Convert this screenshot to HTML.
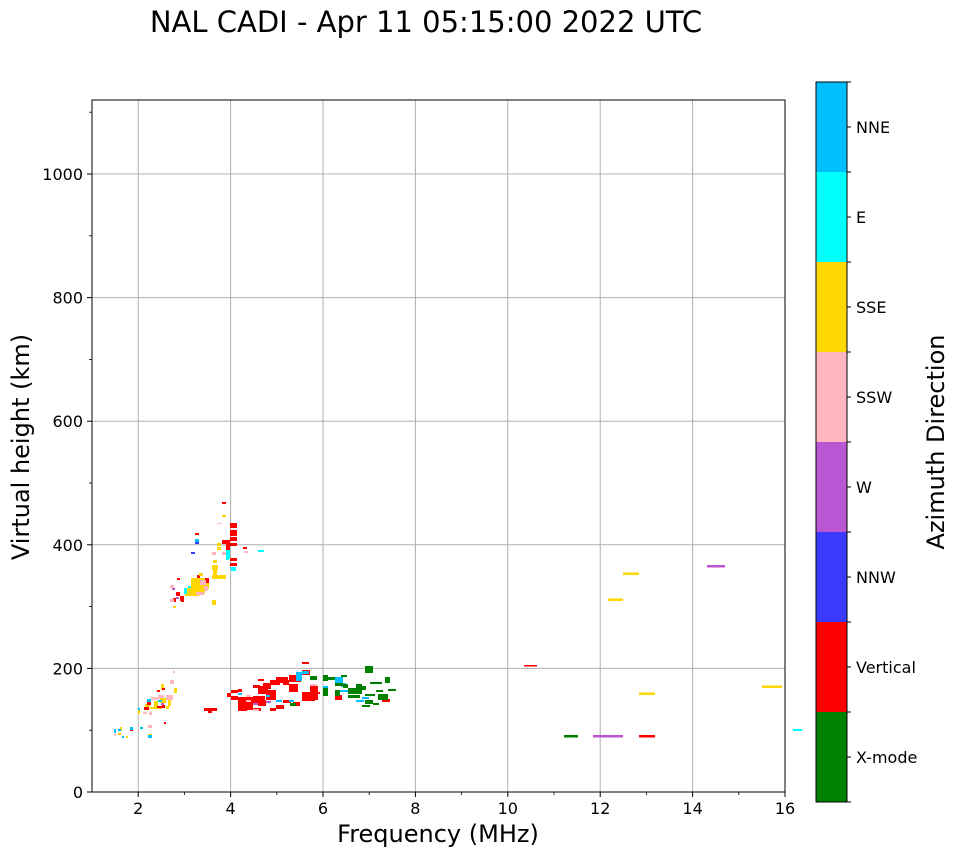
<!DOCTYPE html>
<html><head><meta charset="utf-8"><style>body{margin:0;background:#fff}svg{display:block;font-family:"DejaVu Sans","Liberation Sans",sans-serif}</style></head><body>
<svg width="958" height="857" viewBox="0 0 958 857" xmlns="http://www.w3.org/2000/svg">
<text x="426" y="32" font-size="29" text-anchor="middle">NAL CADI - Apr 11 05:15:00 2022 UTC</text>
<g stroke="#b0b0b0" stroke-width="1">
<line x1="138.2" y1="100" x2="138.2" y2="792"/><line x1="230.6" y1="100" x2="230.6" y2="792"/><line x1="323" y1="100" x2="323" y2="792"/><line x1="415.4" y1="100" x2="415.4" y2="792"/><line x1="507.8" y1="100" x2="507.8" y2="792"/><line x1="600.2" y1="100" x2="600.2" y2="792"/><line x1="692.6" y1="100" x2="692.6" y2="792"/>
<line x1="92" y1="668.4" x2="785" y2="668.4"/><line x1="92" y1="544.8" x2="785" y2="544.8"/><line x1="92" y1="421.2" x2="785" y2="421.2"/><line x1="92" y1="297.6" x2="785" y2="297.6"/><line x1="92" y1="174" x2="785" y2="174"/>
</g>
<g>
<g fill="#ff0000"><rect x="222" y="502" width="4" height="2"/><rect x="230" y="523" width="7" height="5"/><rect x="230" y="530" width="7" height="6"/><rect x="230" y="537" width="7" height="4"/><rect x="226" y="540" width="4" height="12"/><rect x="230" y="543" width="7" height="3"/><rect x="222" y="540" width="4" height="4"/><rect x="230" y="558" width="7" height="3"/><rect x="230" y="563" width="7" height="3"/><rect x="243" y="547" width="4" height="2"/><rect x="197" y="575" width="3" height="5"/><rect x="205" y="578" width="4" height="5"/><rect x="177" y="578" width="3" height="2"/><rect x="176" y="592" width="4" height="4"/><rect x="180" y="596" width="4" height="5"/><rect x="181" y="600" width="3" height="2"/><rect x="173" y="598" width="3" height="4"/><rect x="195" y="533" width="4" height="2"/></g>
<g fill="#ffd700"><rect x="222" y="515" width="4" height="2"/><rect x="217" y="543" width="4" height="3"/><rect x="217" y="547" width="4" height="3"/><rect x="213" y="560" width="4" height="3"/><rect x="212" y="565" width="6" height="5"/><rect x="213" y="570" width="4" height="5"/><rect x="212" y="575" width="14" height="4"/><rect x="199" y="573" width="4" height="3"/><rect x="191" y="578" width="14" height="14"/><rect x="185" y="588" width="14" height="8"/><rect x="203" y="583" width="6" height="6"/><rect x="212" y="600" width="4" height="5"/><rect x="173" y="606" width="3" height="2"/><rect x="200" y="590" width="5" height="4"/></g>
<g fill="#00ffff"><rect x="226" y="550" width="4" height="2"/><rect x="226" y="552" width="4" height="6"/><rect x="231" y="567" width="5" height="4"/><rect x="258" y="550" width="6" height="2"/><rect x="184" y="588" width="3" height="6"/><rect x="188" y="586" width="3" height="2"/><rect x="226" y="558" width="3" height="2"/></g>
<rect x="195" y="539" width="4" height="3" fill="#00bfff"/><rect x="195" y="542" width="4" height="2" fill="#3a3aff"/><rect x="191" y="552" width="4" height="2" fill="#3a3aff"/>
<g fill="#ffb6c1"><rect x="212" y="552" width="4" height="3"/><rect x="204" y="586" width="4" height="5"/><rect x="170" y="585" width="4" height="3"/><rect x="196" y="592" width="8" height="3"/><rect x="200" y="580" width="6" height="5"/><rect x="222" y="552" width="4" height="3"/><rect x="244" y="551" width="4" height="2"/><rect x="217" y="523" width="5" height="1"/><rect x="170" y="599" width="4" height="3"/></g>
<g fill="#ba55d3"><rect x="176" y="597" width="3" height="2"/><rect x="172" y="588" width="3" height="2"/></g>
<g fill="#ffb6c1"><rect x="173" y="671" width="2" height="2"/><rect x="170" y="680" width="4" height="4"/><rect x="151" y="697" width="7" height="3"/><rect x="158" y="695" width="6" height="4"/><rect x="166" y="695" width="7" height="5"/><rect x="143" y="712" width="4" height="2"/><rect x="149" y="712" width="3" height="3"/><rect x="148" y="725" width="4" height="3"/><rect x="114" y="734" width="2" height="2"/></g>
<g fill="#ffd700"><rect x="161" y="684" width="3" height="6"/><rect x="174" y="688" width="3" height="5"/><rect x="154" y="701" width="4" height="8"/><rect x="160" y="698" width="6" height="5"/><rect x="168" y="700" width="3" height="6"/><rect x="145" y="704" width="5" height="3"/><rect x="150" y="707" width="12" height="2"/><rect x="166" y="706" width="3" height="3"/><rect x="120" y="727" width="2" height="4"/><rect x="118" y="733" width="3" height="2"/><rect x="126" y="736" width="2" height="2"/><rect x="148" y="734" width="4" height="2"/><rect x="138" y="710" width="2" height="4"/></g>
<g fill="#ff0000"><rect x="157" y="690" width="3" height="2"/><rect x="162" y="688" width="3" height="2"/><rect x="147" y="702" width="4" height="3"/><rect x="157" y="706" width="5" height="2"/><rect x="162" y="705" width="3" height="3"/><rect x="144" y="707" width="5" height="3"/><rect x="130" y="729" width="3" height="2"/><rect x="164" y="722" width="2" height="2"/><rect x="204" y="708" width="13" height="3"/><rect x="208" y="710" width="4" height="3"/></g>
<g fill="#00bfff"><rect x="147" y="699" width="4" height="3"/><rect x="158" y="700" width="4" height="2"/><rect x="114" y="729" width="2" height="4"/><rect x="118" y="729" width="3" height="2"/><rect x="130" y="727" width="3" height="3"/><rect x="140" y="727" width="3" height="2"/><rect x="148" y="735" width="4" height="3"/><rect x="122" y="736" width="2" height="2"/><rect x="138" y="708" width="2" height="2"/></g>
<rect x="161" y="703" width="3" height="2" fill="#ba55d3"/>
<g fill="#ff0000"><rect x="227" y="693" width="4" height="4"/><rect x="231" y="690" width="7" height="3"/><rect x="231" y="696" width="7" height="4"/><rect x="238" y="689" width="4" height="3"/><rect x="238" y="697" width="15" height="13"/><rect x="253" y="696" width="12" height="7"/><rect x="258" y="700" width="8" height="6"/><rect x="238" y="708" width="9" height="3"/><rect x="253" y="708" width="8" height="3"/><rect x="258" y="686" width="10" height="8"/><rect x="263" y="683" width="8" height="6"/><rect x="266" y="690" width="10" height="10"/><rect x="270" y="680" width="10" height="5"/><rect x="276" y="677" width="12" height="6"/><rect x="283" y="680" width="6" height="5"/><rect x="289" y="675" width="12" height="7"/><rect x="283" y="700" width="8" height="3"/><rect x="289" y="684" width="9" height="8"/><rect x="302" y="692" width="8" height="6"/><rect x="302" y="693" width="13" height="8"/><rect x="310" y="686" width="8" height="14"/><rect x="302" y="670" width="8" height="5"/><rect x="302" y="662" width="7" height="2"/><rect x="270" y="708" width="6" height="3"/><rect x="276" y="705" width="8" height="4"/><rect x="293" y="702" width="7" height="4"/><rect x="253" y="685" width="7" height="3"/><rect x="258" y="679" width="6" height="2"/><rect x="323" y="692" width="5" height="2"/><rect x="335" y="695" width="7" height="5"/><rect x="382" y="699" width="8" height="3"/><rect x="316" y="692" width="4" height="2"/><rect x="524" y="665" width="13" height="1.5"/><rect x="639" y="735" width="16" height="2.5"/></g>
<g fill="#00bfff"><rect x="296" y="672" width="6" height="9"/><rect x="302" y="671" width="7" height="3"/><rect x="238" y="693" width="4" height="2"/><rect x="276" y="700" width="6" height="2"/><rect x="289" y="700" width="5" height="2"/><rect x="266" y="695" width="4" height="2"/><rect x="328" y="678" width="5" height="2"/><rect x="335" y="677" width="8" height="6"/><rect x="340" y="690" width="8" height="2"/><rect x="356" y="700" width="8" height="2"/><rect x="323" y="686" width="5" height="2"/><rect x="362" y="697" width="7" height="2"/><rect x="341" y="683" width="5" height="4"/></g>
<g fill="#ffb6c1"><rect x="246" y="695" width="5" height="2"/><rect x="310" y="684" width="7" height="2"/><rect x="253" y="709" width="6" height="2"/><rect x="246" y="700" width="5" height="2"/></g>
<g fill="#ba55d3"><rect x="253" y="703" width="5" height="2"/><rect x="266" y="701" width="5" height="2"/><rect x="593" y="735" width="30" height="2.5"/><rect x="707" y="565" width="18" height="2.5"/></g>
<g fill="#008000"><rect x="290" y="703" width="6" height="3"/><rect x="310" y="676" width="7" height="4"/><rect x="323" y="675" width="5" height="6"/><rect x="328" y="677" width="7" height="3"/><rect x="335" y="683" width="8" height="3"/><rect x="341" y="675" width="6" height="2"/><rect x="343" y="684" width="5" height="4"/><rect x="348" y="688" width="8" height="6"/><rect x="323" y="688" width="5" height="8"/><rect x="335" y="690" width="5" height="6"/><rect x="348" y="695" width="12" height="3"/><rect x="356" y="684" width="6" height="10"/><rect x="360" y="686" width="6" height="4"/><rect x="365" y="694" width="10" height="2"/><rect x="365" y="700" width="8" height="4"/><rect x="370" y="682" width="12" height="2"/><rect x="376" y="690" width="7" height="2"/><rect x="385" y="677" width="5" height="6"/><rect x="373" y="703" width="6" height="2"/><rect x="362" y="705" width="8" height="2"/><rect x="378" y="694" width="10" height="6"/><rect x="388" y="689" width="8" height="2"/><rect x="365" y="666" width="8" height="7"/><rect x="564" y="735" width="14" height="2.5"/></g>
<g fill="#ffd700"><rect x="623" y="572.5" width="16" height="2.5"/><rect x="608" y="598.5" width="15" height="2.5"/><rect x="639" y="692.5" width="16" height="2.5"/><rect x="762" y="685.5" width="20" height="2.5"/></g>
<rect x="793" y="729" width="9" height="2" fill="#00ffff"/>
</g>
<rect x="92" y="100" width="693" height="692" fill="none" stroke="#000" stroke-width="1"/>
<g stroke="#000" stroke-width="1">
<line x1="138.2" y1="792" x2="138.2" y2="797"/><line x1="230.6" y1="792" x2="230.6" y2="797"/><line x1="323" y1="792" x2="323" y2="797"/><line x1="415.4" y1="792" x2="415.4" y2="797"/><line x1="507.8" y1="792" x2="507.8" y2="797"/><line x1="600.2" y1="792" x2="600.2" y2="797"/><line x1="692.6" y1="792" x2="692.6" y2="797"/><line x1="785" y1="792" x2="785" y2="797"/>
<line x1="87" y1="792" x2="92" y2="792"/><line x1="87" y1="668.4" x2="92" y2="668.4"/><line x1="87" y1="544.8" x2="92" y2="544.8"/><line x1="87" y1="421.2" x2="92" y2="421.2"/><line x1="87" y1="297.6" x2="92" y2="297.6"/><line x1="87" y1="174" x2="92" y2="174"/>
</g>
<g stroke="#000" stroke-width="0.8">
<line x1="184.4" y1="792" x2="184.4" y2="795"/><line x1="276.8" y1="792" x2="276.8" y2="795"/><line x1="369.2" y1="792" x2="369.2" y2="795"/><line x1="461.6" y1="792" x2="461.6" y2="795"/><line x1="554" y1="792" x2="554" y2="795"/><line x1="646.4" y1="792" x2="646.4" y2="795"/><line x1="738.8" y1="792" x2="738.8" y2="795"/>
<line x1="89" y1="730.2" x2="92" y2="730.2"/><line x1="89" y1="606.6" x2="92" y2="606.6"/><line x1="89" y1="483" x2="92" y2="483"/><line x1="89" y1="359.4" x2="92" y2="359.4"/><line x1="89" y1="235.8" x2="92" y2="235.8"/><line x1="89" y1="112.2" x2="92" y2="112.2"/>
</g>
<g font-size="16" text-anchor="middle">
<text x="138.2" y="814">2</text><text x="230.6" y="814">4</text><text x="323" y="814">6</text><text x="415.4" y="814">8</text><text x="507.8" y="814">10</text><text x="600.2" y="814">12</text><text x="692.6" y="814">14</text><text x="785" y="814">16</text>
</g>
<g font-size="16" text-anchor="end">
<text x="83" y="798">0</text><text x="83" y="674.4">200</text><text x="83" y="550.8">400</text><text x="83" y="427.2">600</text><text x="83" y="303.6">800</text><text x="83" y="180">1000</text>
</g>
<text x="438" y="842" font-size="24" text-anchor="middle">Frequency (MHz)</text>
<text transform="translate(29,447) rotate(-90)" font-size="24" text-anchor="middle">Virtual height (km)</text>
<g>
<rect x="816" y="82" width="31" height="90" fill="#00bfff"/><rect x="816" y="172" width="31" height="90" fill="#00ffff"/><rect x="816" y="262" width="31" height="90" fill="#ffd700"/><rect x="816" y="352" width="31" height="90" fill="#ffb6c1"/><rect x="816" y="442" width="31" height="90" fill="#ba55d3"/><rect x="816" y="532" width="31" height="90" fill="#3a3aff"/><rect x="816" y="622" width="31" height="90" fill="#ff0000"/><rect x="816" y="712" width="31" height="90" fill="#008000"/>
<rect x="816" y="82" width="31" height="720" fill="none" stroke="#000" stroke-width="1"/>
</g>
<g stroke="#000" stroke-width="1">
<line x1="847" y1="82" x2="851" y2="82"/><line x1="847" y1="172" x2="851" y2="172"/><line x1="847" y1="262" x2="851" y2="262"/><line x1="847" y1="352" x2="851" y2="352"/><line x1="847" y1="442" x2="851" y2="442"/><line x1="847" y1="532" x2="851" y2="532"/><line x1="847" y1="622" x2="851" y2="622"/><line x1="847" y1="712" x2="851" y2="712"/><line x1="847" y1="802" x2="851" y2="802"/>
<line x1="847" y1="127" x2="851" y2="127"/><line x1="847" y1="217" x2="851" y2="217"/><line x1="847" y1="307" x2="851" y2="307"/><line x1="847" y1="397" x2="851" y2="397"/><line x1="847" y1="487" x2="851" y2="487"/><line x1="847" y1="577" x2="851" y2="577"/><line x1="847" y1="667" x2="851" y2="667"/><line x1="847" y1="757" x2="851" y2="757"/>
</g>
<g font-size="16">
<text x="856" y="133">NNE</text><text x="856" y="223">E</text><text x="856" y="313">SSE</text><text x="856" y="403">SSW</text><text x="856" y="493">W</text><text x="856" y="583">NNW</text><text x="856" y="673">Vertical</text><text x="856" y="763">X-mode</text>
</g>
<text transform="translate(944,442) rotate(-90)" font-size="24" text-anchor="middle">Azimuth Direction</text>
</svg>
</body></html>
